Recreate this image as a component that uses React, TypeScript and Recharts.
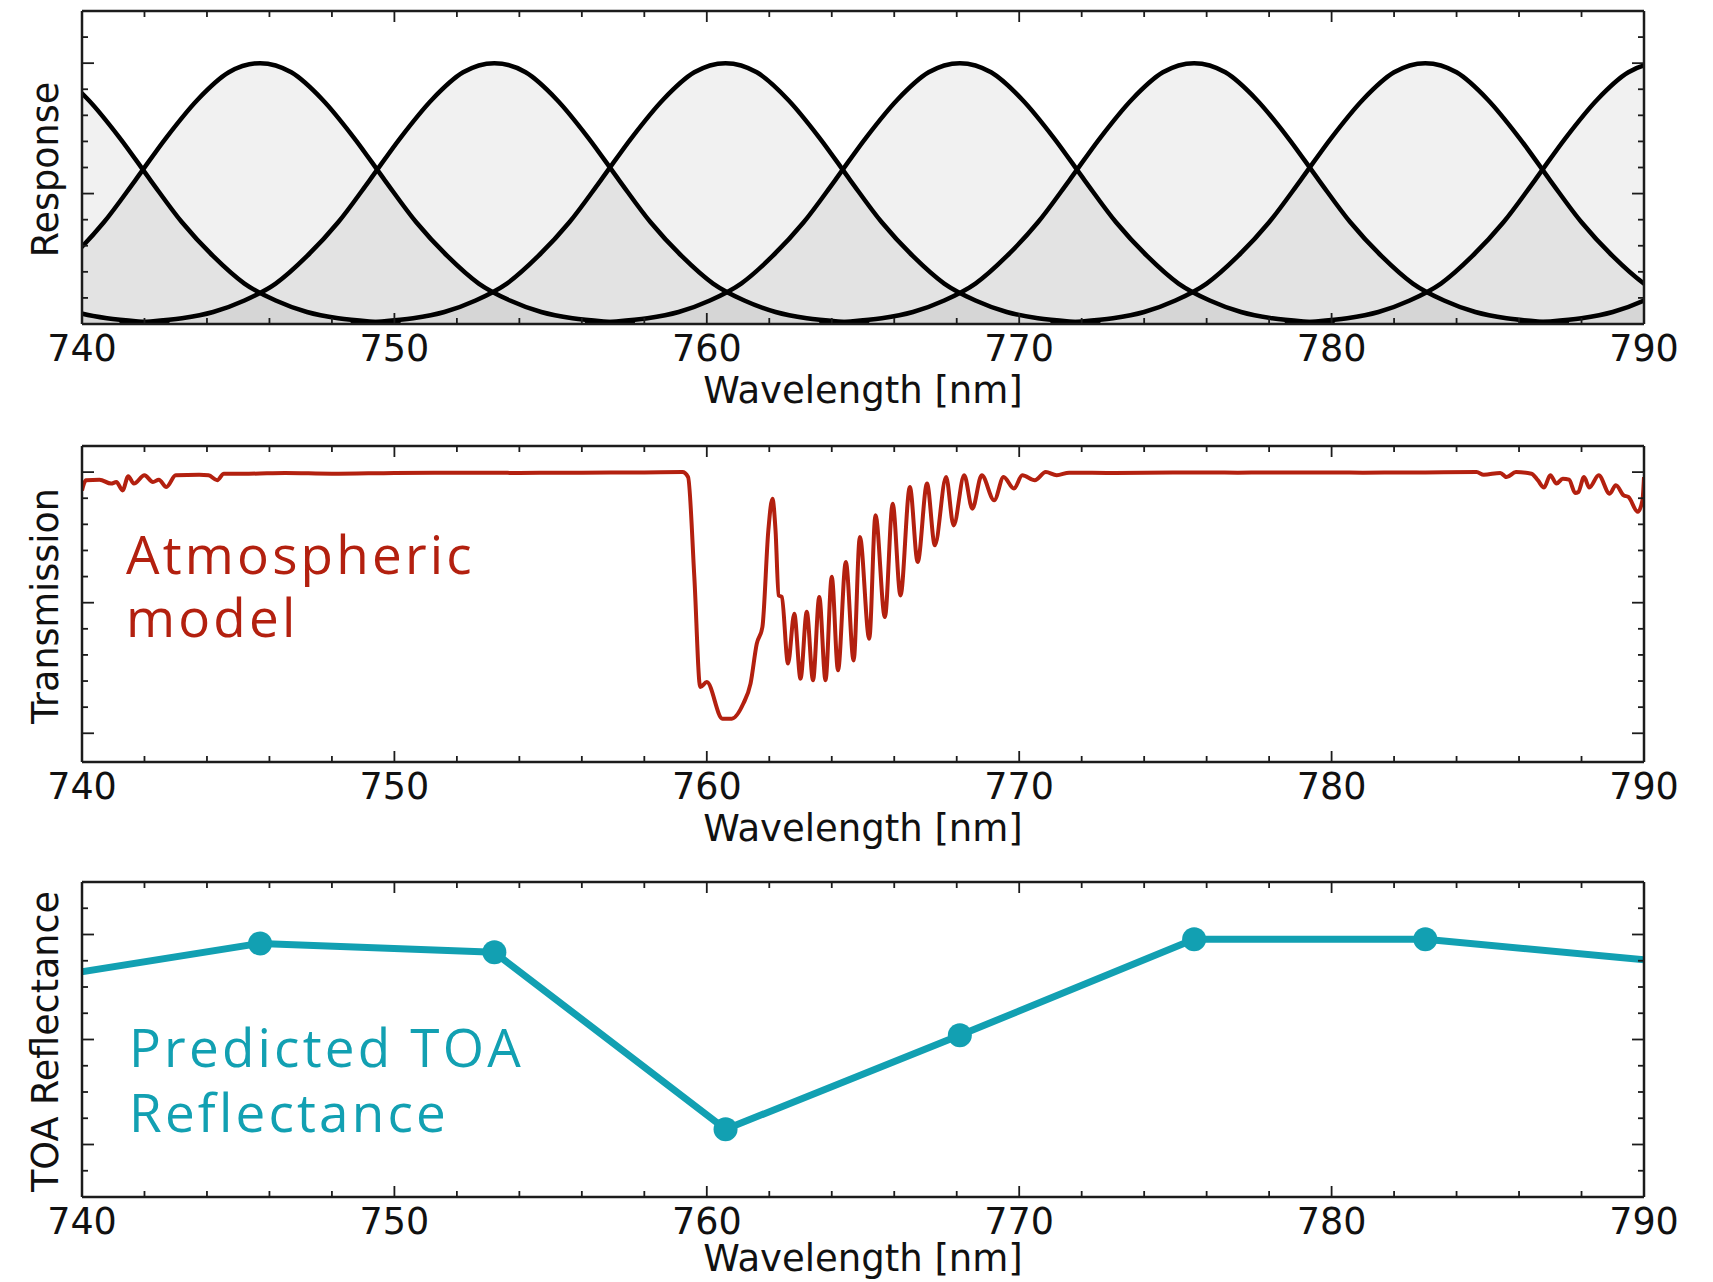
import React from 'react'
import { Area, ComposedChart, Line, XAxis, YAxis } from 'recharts'

// wavelength axis (nm)
const xTicks = [740, 742, 744, 746, 748, 750, 752, 754, 756, 758, 760, 762, 764, 766, 768, 770, 772, 774, 776, 778, 780, 782, 784, 786, 788, 790]
const xMajor = [740, 750, 760, 770, 780, 790]

// band response shape, offset from band centre (nm)
const profileOffset = [-12, -11, -10, -9, -8, -7, -6, -5, -4, -3, -2, -1, 0, 1, 2, 3, 4, 5, 6, 7, 8, 9, 10, 11, 12]
const profileResp = [0.004, 0.01, 0.022, 0.046, 0.09, 0.155, 0.26, 0.39, 0.55, 0.715, 0.86, 0.965, 1.0, 0.965, 0.86, 0.715, 0.55, 0.39, 0.26, 0.155, 0.09, 0.046, 0.022, 0.01, 0.004]
const bandCentres = [730.8, 738.2, 745.7, 753.2, 760.6, 768.1, 775.6, 783.0, 790.5, 798.0]
const respTicks = [0.1, 0.2, 0.3, 0.4, 0.5, 0.6, 0.7, 0.8, 0.9, 1.0, 1.1]
const respMajor = [0.5, 1.0]

// atmospheric transmission
const transWl = [740.0, 740.13, 740.56, 740.93, 741.1, 741.3, 741.48, 741.66, 742.0, 742.27, 742.46, 742.7, 743.0, 743.75, 744.05, 744.33, 744.54, 745.34, 746.5, 748.0, 750.0, 752.0, 754.0, 756.0, 758.0, 759.22, 759.4, 759.6, 759.79, 760.0, 760.5, 760.8, 761.17, 761.4, 761.6, 761.78, 761.97, 762.1, 762.2, 762.3, 762.4, 762.6, 762.8, 763.0, 763.2, 763.4, 763.6, 763.8, 764.0, 764.2, 764.45, 764.7, 764.9, 765.2, 765.4, 765.7, 765.95, 766.2, 766.5, 766.75, 767.05, 767.3, 767.66, 767.9, 768.24, 768.5, 768.8, 769.2, 769.5, 769.83, 770.1, 770.5, 770.85, 771.2, 771.6, 773.0, 775.0, 777.0, 779.0, 781.0, 783.0, 784.64, 784.87, 785.4, 785.6, 785.9, 786.4, 786.6, 786.8, 787.0, 787.2, 787.4, 787.6, 787.8, 787.9, 788.08, 788.25, 788.55, 788.9, 789.1, 789.35, 789.5, 789.8, 789.95, 790.0]
const transVal = [0.93, 0.969, 0.971, 0.956, 0.962, 0.93, 0.984, 0.956, 0.988, 0.962, 0.971, 0.943, 0.988, 0.99, 0.988, 0.969, 0.994, 0.994, 0.997, 0.994, 0.997, 0.998, 0.997, 0.998, 0.999, 1.0, 0.981, 0.6, 0.177, 0.196, 0.056, 0.056, 0.114, 0.19, 0.343, 0.407, 0.777, 0.898, 0.777, 0.528, 0.522, 0.267, 0.458, 0.209, 0.465, 0.203, 0.522, 0.203, 0.599, 0.241, 0.656, 0.279, 0.752, 0.362, 0.835, 0.445, 0.879, 0.528, 0.943, 0.656, 0.956, 0.72, 0.981, 0.796, 0.988, 0.86, 0.988, 0.892, 0.981, 0.937, 0.988, 0.969, 1.0, 0.988, 0.998, 0.997, 0.999, 0.998, 0.999, 0.998, 0.999, 1.0, 0.99, 0.997, 0.981, 1.0, 0.994, 0.969, 0.941, 0.988, 0.956, 0.975, 0.971, 0.92, 0.924, 0.981, 0.941, 0.988, 0.917, 0.95, 0.911, 0.905, 0.848, 0.892, 0.981]
const transTicks = [0, 0.1, 0.2, 0.3, 0.4, 0.5, 0.6, 0.7, 0.8, 0.9, 1.0]
const transMajor = [0, 0.5, 1.0]

// predicted TOA reflectance per band
const toaWl = [738.2, 745.7, 753.2, 760.6, 768.1, 775.6, 783.0, 790.5]
const toaVal = [0.1712, 0.1783, 0.1766, 0.1429, 0.1608, 0.1791, 0.1791, 0.1749]
const toaTicks = [0.135, 0.14, 0.145, 0.15, 0.155, 0.16, 0.165, 0.17, 0.175, 0.18, 0.185]
const toaMajor = [0.14, 0.16, 0.18]

const bandData = bandCentres.map((c) => profileOffset.map((o, i) => ({ wl: c + o, r: profileResp[i] })))
const transData = transWl.map((wl, i) => ({ wl, t: transVal[i] }))
const toaData = toaWl.map((wl, i) => ({ wl, v: toaVal[i] }))

const W = 1713
const PLOT_L = 82
const PLOT_R = 1644
const axisColor = '#1c1c1c'
const font = '"DejaVu Sans", sans-serif'
const red = '#b3200f'
const teal = '#12a0b2'

const near = (v: number, list: number[]) => list.some((m) => Math.abs(m - v) < 1e-6)

const xTick = (side: 'top' | 'bottom') => (props: any) => {
  const { x, y, payload } = props
  const major = near(payload.value, xMajor)
  const len = major ? 11 : 6
  const dir = side === 'bottom' ? -1 : 1
  return (
    <g>
      <line x1={x} x2={x} y1={y} y2={y + dir * len} stroke={axisColor} strokeWidth={1.8} />
      {side === 'bottom' && major && (
        <text x={x} y={y + 24} textAnchor="middle" dominantBaseline="central" fontFamily={font} fontSize={36.5} fill="#111">
          {payload.value}
        </text>
      )}
    </g>
  )
}

const yTick = (major: number[], side: 'left' | 'right') => (props: any) => {
  const { x, y, payload } = props
  const len = near(payload.value, major) ? 12 : 6
  const dir = side === 'left' ? 1 : -1
  return <line x1={x} x2={x + dir * len} y1={y} y2={y} stroke={axisColor} strokeWidth={1.8} />
}

const xLabel = (offset: number) => (props: any) => {
  const vb = props.viewBox
  return (
    <text x={vb.x + vb.width / 2} y={vb.y + offset} textAnchor="middle" dominantBaseline="central" fontFamily={font} fontSize={37} fill="#111">
      Wavelength [nm]
    </text>
  )
}

const yLabel = (text: string) => (props: any) => {
  const vb = props.viewBox
  const cx = vb.x + vb.width - 37
  const cy = vb.y + vb.height / 2 + 2
  return (
    <text x={cx} y={cy} transform={`rotate(-90 ${cx} ${cy})`} textAnchor="middle" dominantBaseline="central" fontFamily={font} fontSize={36.5} fill="#111">
      {text}
    </text>
  )
}

type PanelProps = {
  top: number
  height: number
  plotTop: number
  plotBottom: number
  yDomain: [number, number]
  yTicks: number[]
  yMajor: number[]
  label: string
  xLabelOffset?: number
  children: React.ReactNode
}

// axes get 1px of room each (a 0-sized axis is not drawn), margins make up the rest
const Panel = ({ top, height, plotTop, plotBottom, yDomain, yTicks, yMajor, label, xLabelOffset = 66, children }: PanelProps) => (
  <div style={{ position: 'absolute', left: 0, top }}>
    <ComposedChart width={W} height={height}
      margin={{ top: plotTop - 1, right: W - PLOT_R - 1, bottom: height - plotBottom - 1, left: PLOT_L - 1 }}>
      <XAxis xAxisId="b" dataKey="wl" type="number" domain={[740, 790]} allowDataOverflow ticks={xTicks} interval={0}
        height={1} tickSize={0} tickMargin={0} tickLine={false} axisLine={{ stroke: axisColor, strokeWidth: 2.5 }}
        tick={xTick('bottom')} label={xLabel(xLabelOffset)} />
      <XAxis xAxisId="t" orientation="top" dataKey="wl" type="number" domain={[740, 790]} allowDataOverflow ticks={xTicks} interval={0}
        height={1} tickSize={0} tickMargin={0} tickLine={false} axisLine={{ stroke: axisColor, strokeWidth: 2.5 }}
        tick={xTick('top')} />
      <YAxis yAxisId="l" type="number" domain={yDomain} allowDataOverflow ticks={yTicks} interval={0}
        width={1} tickSize={0} tickMargin={0} tickLine={false} axisLine={{ stroke: axisColor, strokeWidth: 2.5 }}
        tick={yTick(yMajor, 'left')} label={yLabel(label)} />
      <YAxis yAxisId="r" orientation="right" type="number" domain={yDomain} allowDataOverflow ticks={yTicks} interval={0}
        width={1} tickSize={0} tickMargin={0} tickLine={false} axisLine={{ stroke: axisColor, strokeWidth: 2.5 }}
        tick={yTick(yMajor, 'right')} />
      {children}
    </ComposedChart>
  </div>
)

const annoStyle = { fontFamily: '"Open Sans", sans-serif', fontSize: 53, fontWeight: 500, letterSpacing: 3.2 }

export default function App() {
  return (
    <div style={{ position: 'absolute', left: 0, top: 0, width: W, height: 1282, background: '#fff', overflow: 'hidden' }}>
      <Panel top={0} height={430} plotTop={11} plotBottom={324} yDomain={[0, 1.2]} yTicks={respTicks} yMajor={respMajor} label="Response">
        {bandData.map((d, i) => (
          <Area key={`band-${i}`} name={`band-${i}`} xAxisId="b" yAxisId="l" data={d} dataKey="r" type="monotone"
            stroke="#000" strokeWidth={4.5} fill="#000" fillOpacity={0.055} dot={false} activeDot={false} isAnimationActive={false} />
        ))}
      </Panel>
      <Panel top={430} height={430} plotTop={16} plotBottom={332} yDomain={[-0.11, 1.1]} yTicks={transTicks} yMajor={transMajor} label="Transmission">
        <Line xAxisId="b" yAxisId="l" data={transData} dataKey="t" type="monotone" stroke={red} strokeWidth={4}
          strokeLinejoin="round" dot={false} activeDot={false} isAnimationActive={false} />
      </Panel>
      <Panel top={860} height={422} plotTop={22} plotBottom={337} yDomain={[0.13, 0.19]} yTicks={toaTicks} yMajor={toaMajor} label="TOA Reflectance" xLabelOffset={61}>
        <Line xAxisId="b" yAxisId="l" data={toaData} dataKey="v" type="linear" stroke={teal} strokeWidth={7}
          strokeLinejoin="round" dot={{ r: 12, fill: teal, stroke: 'none' }} activeDot={false} isAnimationActive={false} />
      </Panel>
      <svg width={W} height={1282} style={{ position: 'absolute', left: 0, top: 0, pointerEvents: 'none' }}>
        <text x={126} y={574} fill={red} style={annoStyle}>
          <tspan x={126}>Atmospheric</tspan>
          <tspan x={126} dy={63}>model</tspan>
        </text>
        <text x={129} y={1067} fill={teal} style={annoStyle}>
          <tspan x={129}>Predicted TOA</tspan>
          <tspan x={129} dy={65}>Reflectance</tspan>
        </text>
      </svg>
    </div>
  )
}
